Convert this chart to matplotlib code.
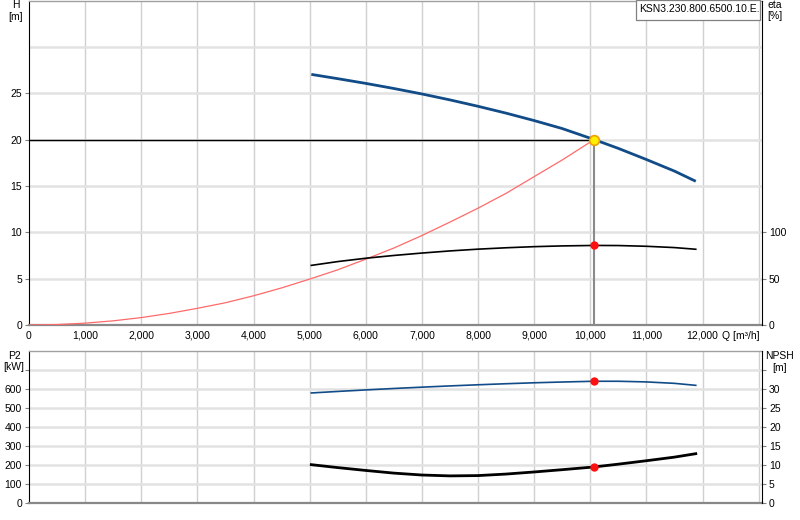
import matplotlib
matplotlib.use("Agg")
import matplotlib.pyplot as plt
from matplotlib.patches import Rectangle
from matplotlib.transforms import blended_transform_factory

plt.rcParams['font.family'] = ['Liberation Sans', 'DejaVu Sans']

# ---- data ----
q_curve = [5030, 5500, 6000, 6500, 7000, 7500, 8000, 8500, 9000, 9500,
           10070, 10500, 11000, 11500, 11880]
head = [27.03, 26.57, 26.06, 25.51, 24.92, 24.28, 23.59, 22.85, 22.05, 21.19,
        20.0, 19.05, 17.85, 16.6, 15.5]
eta = [64.3, 68.4, 72.0, 75.0, 77.6, 79.9, 81.8, 83.3, 84.5, 85.3,
       85.8, 85.7, 84.9, 83.5, 81.7]
q_sys = [0, 500, 1000, 1500, 2000, 2500, 3000, 3500, 4000, 4500, 5000, 5500,
         6000, 6500, 7000, 7500, 8000, 8500, 9000, 9500, 10070]
h_sys = [0.0, 0.05, 0.2, 0.45, 0.8, 1.25, 1.8, 2.4, 3.15, 4.0, 4.95, 5.95,
         7.1, 8.3, 9.65, 11.1, 12.6, 14.2, 16.0, 17.8, 20.0]
p2 = [578, 586, 594, 601.5, 608.5, 615, 621, 626.5, 631.5, 635.5,
      639.5, 639.5, 636, 628.5, 618]
npsh = [10.07, 9.3, 8.55, 7.85, 7.35, 7.12, 7.2, 7.6, 8.15, 8.75,
        9.47, 10.2, 11.1, 12.05, 12.95]
q_op = 10070
h_op = 20.0
eta_op = 85.8
p2_op = 640
npsh_op = 9.47
x_ticks = [0, 1000, 2000, 3000, 4000, 5000, 6000, 7000, 8000, 9000, 10000, 11000, 12000]
x_tick_labels = ["0", "1,000", "2,000", "3,000", "4,000", "5,000", "6,000",
                 "7,000", "8,000", "9,000", "10,000", "11,000", "12,000"]
x_grid = [1000, 2000, 3000, 4000, 5000, 6000, 7000, 8000, 9000, 10000, 11000, 12000, 13000]
h_ticks = [0, 5, 10, 15, 20, 25]
h_grid = [5, 10, 15, 20, 25, 30]
eta_ticks = [0, 50, 100]
p2_ticks = [0, 100, 200, 300, 400, 500, 600, 700]
p2_labels = ["0", "100", "200", "300", "400", "500", "600", ""]
p2_grid = [100, 200, 300, 400, 500, 600, 700]
npsh_ticks = [0, 5, 10, 15, 20, 25, 30, 35]
npsh_labels = ["0", "5", "10", "15", "20", "25", "30", ""]
model = "KSN3.230.800.6500.10.E."

W, H = 800, 520
fig = plt.figure(figsize=(8, 5.2), dpi=100)
FS = 7.5
BLUE = '#124c88'
XMAX = 13060

def px_axes(l, t, r, b):
    return [l / W, 1 - b / H, (r - l) / W, (b - t) / H]

def style(ax, hgrid):
    ax.set_xlim(0, XMAX)
    for x in x_grid:
        ax.axvline(x, color='#d0d0d0', lw=1.0, zorder=0)
    for y in hgrid:
        ax.axhline(y, color='#e2e2e2', lw=1.8, zorder=0)
    ax.spines['left'].set_color('black')
    ax.spines['right'].set_visible(False)
    ax.spines['bottom'].set_color('#888888')
    ax.spines['bottom'].set_linewidth(1.6)
    ax.spines['top'].set_color('#a0a0a0')
    ax.spines['top'].set_linewidth(1.0)
    ax.tick_params(axis='y', length=3, width=0.8, color='#808080', pad=2,
                   labelsize=FS, direction='out')

def style_right(a2):
    a2.set_xlim(0, XMAX)
    for s in ['left', 'top', 'bottom']:
        a2.spines[s].set_visible(False)
    a2.spines['right'].set_color('black')
    a2.tick_params(axis='y', length=3, width=0.8, color='#808080', pad=2,
                   labelsize=FS, direction='out')

# ---- top panel ----
ax = fig.add_axes(px_axes(29, 0.5, 762, 325))
style(ax, h_grid)
ax.set_ylim(0, 35)
ax.set_yticks(h_ticks)
ax.set_xticks(x_ticks)
ax.set_xticklabels(x_tick_labels)
ax.tick_params(axis='x', length=0, pad=4, labelsize=FS)

ax.plot(q_sys, h_sys, color='#ff6a6a', lw=0.9, zorder=3)
ax.plot([0, q_op], [h_op, h_op], color='black', lw=1.0, zorder=3)
ax.plot([q_op, q_op], [0, h_op], color='#8a8a8a', lw=1.5, zorder=3)
ax.plot(q_curve, head, color=BLUE, lw=2.0, zorder=4, solid_capstyle='butt',
        solid_joinstyle='round')

ax2 = ax.twinx()
style_right(ax2)
ax2.set_ylim(0, 350)
ax2.set_yticks(eta_ticks)
ax2.plot(q_curve, eta, color='black', lw=1.2, zorder=4)
ax2.plot([q_op], [eta_op], 'o', color='#ff1010', ms=5, mec='#ff1010', zorder=6)
ax.plot([q_op], [h_op], 'o', color='#ffee00', ms=7, mec='#f0a000', mew=1.2, zorder=7)

tr = blended_transform_factory(ax.transData, ax.transAxes)
ax.annotate("Q [m\u00b3/h]", xy=(12000, 0), xycoords=tr, xytext=(14, -4),
            textcoords='offset points', ha='left', va='top', fontsize=FS)

# ---- bottom panel ----
bx = fig.add_axes(px_axes(29, 350.7, 762, 503))
style(bx, p2_grid)
bx.set_ylim(0, 800)
bx.set_yticks(p2_ticks)
bx.set_yticklabels(p2_labels)
bx.set_xticks([])
bx.plot(q_curve, p2, color=BLUE, lw=1.2, zorder=4)
bx.plot([q_op], [p2_op], 'o', color='#ff1010', ms=5, mec='#ff1010', zorder=6)

bx2 = bx.twinx()
style_right(bx2)
bx2.set_ylim(0, 40)
bx2.set_yticks(npsh_ticks)
bx2.set_yticklabels(npsh_labels)
bx2.plot(q_curve, npsh, color='black', lw=2.0, zorder=4, solid_joinstyle='round')
bx2.plot([q_op], [npsh_op], 'o', color='#ff1010', ms=5, mec='#ff1010', zorder=6)

# ---- axis titles ----
def ftxt(x, y, s, ha='center'):
    fig.text(x / W, 1 - y / H, s, ha=ha, va='center', fontsize=FS)

ftxt(16, 5, "H")
ftxt(16, 17, "[m]")
ftxt(767, 5, "eta", ha='left')
ftxt(767, 16, "[%]", ha='left')
ftxt(14, 356, "P2")
ftxt(14, 367, "[kW]")
ftxt(780, 356, "NPSH")
ftxt(780, 368, "[m]")

# model label box
fig.patches.append(Rectangle((636 / W, 1 - 19.5 / H), (760 - 636) / W, 19.5 / H,
                             transform=fig.transFigure, facecolor='white',
                             edgecolor='#808080', lw=0.9, zorder=10))
fig.text(639 / W, 1 - 9.5 / H, model, ha='left', va='center', fontsize=FS, zorder=11)

fig.savefig("out.png", dpi=100)
